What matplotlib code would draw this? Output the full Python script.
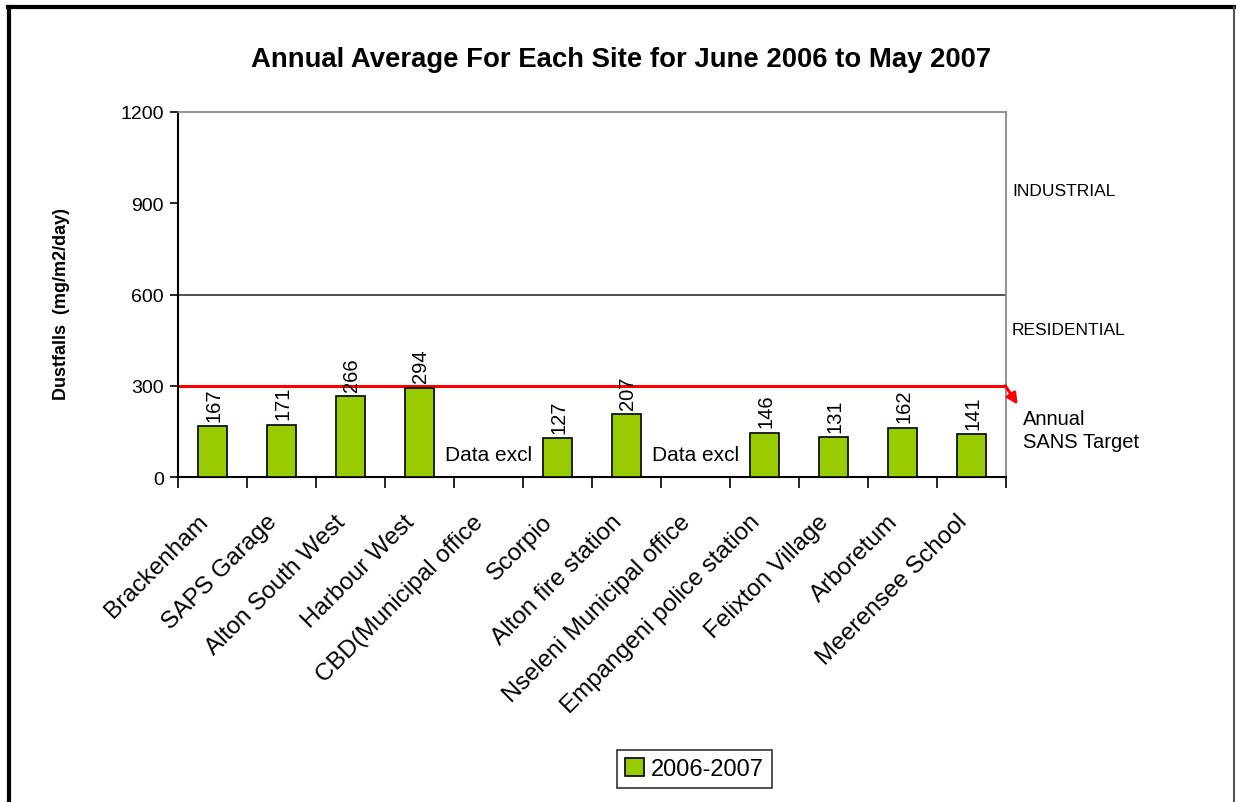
import matplotlib.pyplot as plt
import numpy as np
from matplotlib.lines import Line2D
from matplotlib.transforms import ScaledTranslation

plt.rcParams['font.family'] = ['Liberation Sans', 'DejaVu Sans']

# data
sites = ['Brackenham', 'SAPS Garage', 'Alton South West', 'Harbour West',
         'CBD(Municipal office', 'Scorpio', 'Alton fire station',
         'Nseleni Municipal office', 'Empangeni police station',
         'Felixton Village', 'Arboretum', 'Meerensee School']
dust_2006_2007 = [167, 171, 266, 294, None, 127, 207, None, 146, 131, 162, 141]
series_name = '2006-2007'
sans_target = 300
residential_limit = 600
yticks = [0, 300, 600, 900, 1200]

x = np.arange(len(sites))
vals = np.array([np.nan if v is None else v for v in dust_2006_2007], dtype=float)

fig = plt.figure(figsize=(12.36, 8.03), dpi=100)
ax = fig.add_axes([0.144, 0.4047, 0.670, 0.4546])

ax.bar(x, vals, 0.42, color='#99CC00', edgecolor='black', linewidth=1.2,
       label=series_name, zorder=3)

# value labels / excluded data
for xi, v in zip(x, dust_2006_2007):
    if v is None:
        ax.text(xi, 75, 'Data excl', ha='center', va='center', fontsize=15)
    else:
        ax.annotate(str(v), (xi, v), xytext=(1, 4), textcoords='offset points',
                    rotation=90, ha='center', va='bottom', fontsize=14.5, zorder=4)

# limit lines
ax.axhline(residential_limit, color='#333333', lw=1.2, zorder=1)
ax.axhline(sans_target, color='#FF0000', lw=2.2, zorder=2)
ax.annotate('', xy=(1.014, 238), xycoords=('axes fraction', 'data'),
            xytext=(0.999, sans_target), textcoords=('axes fraction', 'data'),
            arrowprops=dict(arrowstyle='-|>', color='#FF0000', lw=2.2,
                            mutation_scale=16, shrinkA=0, shrinkB=0),
            annotation_clip=False)

ax.set_xlim(-0.5, len(sites) - 0.5)
ax.set_ylim(0, 1200)
ax.set_yticks(yticks)
ax.tick_params(axis='y', labelsize=14, length=6, width=1.2, direction='out', pad=4)

ax.set_xticks(x)
ax.set_xticklabels(sites, rotation=45, ha='right', rotation_mode='anchor', fontsize=17.5)
ax.tick_params(axis='x', which='major', length=0, pad=24)
ax.set_xticks(np.arange(-0.5, len(sites)), minor=True)
ax.tick_params(axis='x', which='minor', length=8, width=1.2, direction='out')
shift = ScaledTranslation(-16 / 100, 0, fig.dpi_scale_trans)
for lbl in ax.get_xticklabels():
    lbl.set_transform(lbl.get_transform() + shift)

for s in ['top', 'right']:
    ax.spines[s].set_color('#808080')
    ax.spines[s].set_linewidth(1.2)
for s in ['left', 'bottom']:
    ax.spines[s].set_color('black')
    ax.spines[s].set_linewidth(1.5)

# zone labels
fig.text(0.8188, 0.761, 'INDUSTRIAL', fontsize=12.5, va='center', ha='left')
fig.text(0.8188, 0.589, 'RESIDENTIAL', fontsize=12.5, va='center', ha='left')
fig.text(0.8277, 0.4633, 'Annual\nSANS Target', fontsize=14.5, va='center', ha='left',
         linespacing=1.3)

fig.text(0.5025, 0.925, 'Annual Average For Each Site for June 2006 to May 2007',
         ha='center', va='center', fontsize=19.8, fontweight='bold')
fig.text(0.050, 0.621, 'Dustfalls  (mg/m2/day)', rotation=90, ha='center',
         va='center', fontsize=13, fontweight='bold')

leg = fig.legend(loc='center', bbox_to_anchor=(0.5617, 0.041), fontsize=17,
                 frameon=True, fancybox=False, edgecolor='black',
                 handlelength=0.8, handleheight=0.8, handletextpad=0.3,
                 borderpad=0.35)
leg.get_frame().set_linewidth(1.2)

# outer chart border
fig.add_artist(Line2D([0.0072, 0.0072], [0, 0.9895], transform=fig.transFigure,
                      color='black', lw=3))
fig.add_artist(Line2D([0.0065, 0.998], [0.9895, 0.9895], transform=fig.transFigure,
                      color='black', lw=3))
fig.add_artist(Line2D([0.998, 0.998], [0, 0.9895], transform=fig.transFigure,
                      color='#555555', lw=1.5))

fig.savefig('out.png', dpi=100)
